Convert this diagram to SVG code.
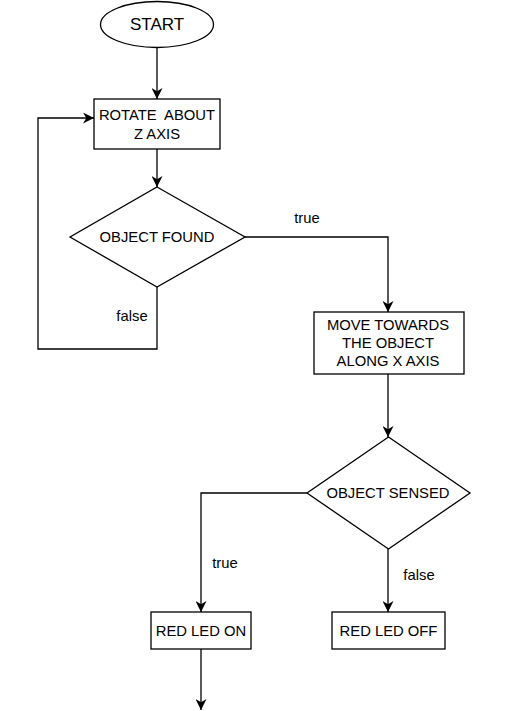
<svg xmlns="http://www.w3.org/2000/svg" width="508" height="711" viewBox="0 0 508 711">
<defs>
<marker id="arr" viewBox="0 0 10 10" refX="10" refY="5" markerWidth="11" markerHeight="11" markerUnits="userSpaceOnUse" orient="auto">
<path d="M0,0 L10,5 L0,10 L3,5 z" fill="#000"/>
</marker>
<style>
.shape{fill:#fff;stroke:#000;stroke-width:1.3}
.edge{fill:none;stroke:#000;stroke-width:1.3;marker-end:url(#arr)}
text{font-family:"Liberation Sans",Arial,sans-serif;font-size:14.8px;fill:#000;text-anchor:middle;white-space:pre}
</style>
</defs>
<rect width="508" height="711" fill="#fff"/>
<g id="connectors">
<path class="edge" d="M157,47.5 L157,99"/>
<path class="edge" d="M157,149 L157,187"/>
<path class="edge" d="M157,287 L157,349 L38,349 L38,118 L94,118"/>
<path class="edge" d="M245,237 L388,237 L388,312"/>
<path class="edge" d="M388,374 L388,437"/>
<path class="edge" d="M307,493 L201,493 L201,612"/>
<path class="edge" d="M388,549 L388,612"/>
<path class="edge" d="M201,649 L201,710"/>
<text x="307" y="223">true</text>
<text x="132" y="321">false</text>
<text x="225" y="567.5">true</text>
<text x="419" y="580">false</text>
</g>
<g id="start">
<ellipse class="shape" cx="157" cy="24.5" rx="56.5" ry="23"/>
<text x="157" y="30" style="font-size:17px">START</text>
</g>
<g id="rotate">
<rect class="shape" x="94" y="99" width="126" height="50"/>
<text x="157" y="120">ROTATE  ABOUT</text>
<text x="157" y="138.5">Z AXIS</text>
</g>
<g id="found">
<polygon class="shape" points="157,187 245,237 157,287 70,237"/>
<text x="157" y="242">OBJECT FOUND</text>
</g>
<g id="move">
<rect class="shape" x="314" y="312" width="150" height="62"/>
<text x="388" y="329.5">MOVE TOWARDS</text>
<text x="388" y="347.5">THE OBJECT</text>
<text x="388" y="365.5">ALONG X AXIS</text>
</g>
<g id="sensed">
<polygon class="shape" points="388.5,437 470,493 388.5,549 307,493"/>
<text x="388" y="497.5">OBJECT SENSED</text>
</g>
<g id="ledon">
<rect class="shape" x="151" y="612" width="100" height="37"/>
<text x="201" y="636">RED LED ON</text>
</g>
<g id="ledoff">
<rect class="shape" x="332" y="612" width="113" height="37"/>
<text x="388.5" y="636">RED LED OFF</text>
</g>
</svg>
